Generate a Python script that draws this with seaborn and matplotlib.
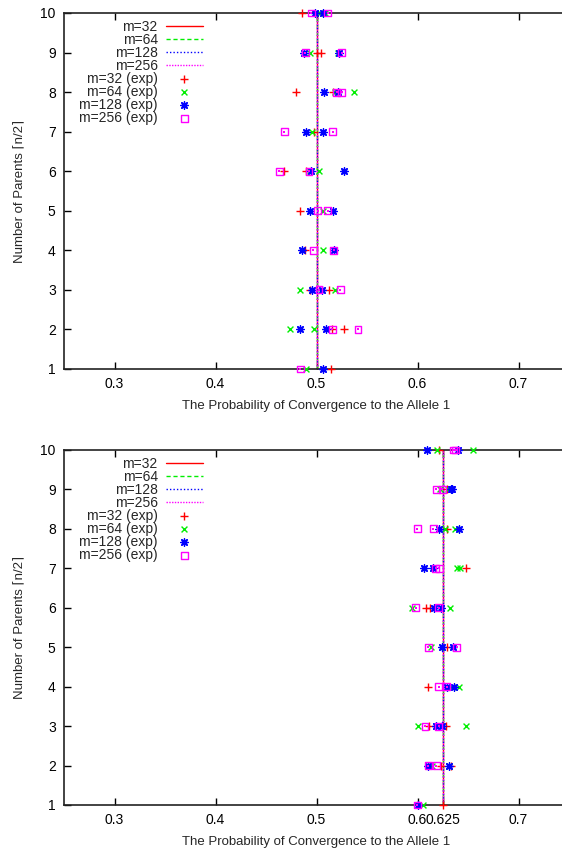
import numpy as np
import pandas as pd
import matplotlib
matplotlib.use("Agg")
import matplotlib.pyplot as plt
import seaborn as sns

sns.set_style("ticks")
plt.rcParams['font.family'] = ['Liberation Sans', 'DejaVu Sans']

# === Data (values per row, row 1 .. 10) ===
m_values = [32, 64, 128, 256]
rows = list(range(1, 11))

theory_top = [0.5, 0.5, 0.5, 0.5]
theory_bottom = [0.625, 0.625, 0.625, 0.625]

top_m32 = [[0.5148], [0.515, 0.5274], [0.4935, 0.5125], [0.4886], [0.4836],
           [0.468, 0.490], [0.498], [0.480, 0.516], [0.500, 0.504], [0.486]]
top_m64 = [[0.490], [0.4736, 0.4975], [0.484, 0.518], [0.506], [0.506],
           [0.494, 0.5025], [0.496], [0.518, 0.537], [0.494, 0.521], [0.503, 0.508]]
top_m128 = [[0.5065], [0.4836, 0.5098], [0.496, 0.505], [0.486, 0.517], [0.494, 0.516],
            [0.495, 0.527], [0.490, 0.506], [0.507, 0.521], [0.4876, 0.522], [0.499, 0.506]]
top_m256 = [[0.484], [0.5158, 0.541], [0.5025, 0.5234], [0.497, 0.517], [0.501, 0.511],
            [0.463, 0.4925], [0.468, 0.516], [0.520, 0.525], [0.489, 0.525], [0.495, 0.511]]

bot_m32 = [[0.625], [0.623, 0.633], [0.611, 0.6287], [0.6108], [0.6297],
           [0.6081, 0.6121], [0.648], [0.629], [0.629], [0.621]]
bot_m64 = [[0.605], [0.614, 0.6307], [0.6005, 0.648], [0.634, 0.6406], [0.6138],
           [0.5942, 0.632], [0.639, 0.6423], [0.627, 0.6373], [0.622, 0.6303], [0.6198, 0.6553]]
bot_m128 = [[0.6005], [0.6108, 0.6307], [0.6181, 0.6241], [0.6297, 0.6363], [0.6247, 0.6347],
            [0.6164, 0.6237], [0.6065, 0.6158], [0.6214, 0.6406], [0.633, 0.634], [0.6098, 0.6403]]
bot_m256 = [[0.5999], [0.6108, 0.6188], [0.6075, 0.6208], [0.6208, 0.629], [0.6108, 0.639],
            [0.5982, 0.6208], [0.6181, 0.6214], [0.5999, 0.6158], [0.6188, 0.6247], [0.6357, 0.638]]

xticks_top = [0.3, 0.4, 0.5, 0.6, 0.7]
xticks_bottom = [0.3, 0.4, 0.5, 0.6, 0.625, 0.7]

colors = ['#ff0000', '#00ee00', '#0000ff', '#ff00ff']
line_styles = ['-', (0, (3, 2)), (0, (1, 1.5)), (0, (1, 1))]
asterisk = (8, 2, 0)


def to_frame(per_row):
    xs, ys = [], []
    for r, vals in zip(rows, per_row):
        for v in vals:
            xs.append(v)
            ys.append(r)
    return pd.DataFrame({"x": xs, "y": ys})


def draw_panel(ax, theory, series, xticks):
    # theory lines (all four overlap)
    for m, t, c, ls in zip(m_values, theory, colors, line_styles):
        sns.lineplot(x=[t, t], y=[rows[0], rows[-1]], ax=ax, color=c, linestyle=ls,
                     linewidth=1, sort=False, estimator=None, label=f"m={m}")
    # experimental points
    d = to_frame(series[0])
    sns.scatterplot(data=d, x="x", y="y", ax=ax, marker='+', color=colors[0], s=30,
                    linewidth=1, clip_on=False, zorder=5, label="m=32 (exp)")
    d = to_frame(series[1])
    sns.scatterplot(data=d, x="x", y="y", ax=ax, marker='x', color=colors[1], s=18,
                    linewidth=1, clip_on=False, zorder=5, label="m=64 (exp)")
    d = to_frame(series[2])
    sns.scatterplot(data=d, x="x", y="y", ax=ax, marker=asterisk, color=colors[2], s=28,
                    linewidth=1, clip_on=False, zorder=5, label="m=128 (exp)")
    d = to_frame(series[3])
    sns.scatterplot(data=d, x="x", y="y", ax=ax, marker='s', fc='none', ec=colors[3], s=24,
                    linewidth=1, clip_on=False, zorder=6, label="m=256 (exp)")
    sns.scatterplot(data=d, x="x", y="y", ax=ax, marker='s', color=colors[3], s=2,
                    linewidth=0, clip_on=False, zorder=6, legend=False)

    ax.set_xlim(0.25, 0.75)
    ax.set_ylim(1, 10)
    ax.set_xticks(xticks)
    ax.set_xticklabels([f"{t:g}" for t in xticks])
    ax.set_yticks(rows)
    ax.tick_params(direction='in', length=5, width=1, top=True, right=True,
                   labelsize=10, pad=6, colors='black')
    for s in ax.spines.values():
        s.set_linewidth(1.2)
        s.set_color('#222222')
    ax.set_xlabel("The Probability of Convergence to the Allele 1", fontsize=9.5, labelpad=6)
    ax.set_ylabel("Number of Parents \u2308n/2\u2309", fontsize=9.5, labelpad=10)
    leg = ax.legend(loc='upper right', bbox_to_anchor=(0.275, 0.981), frameon=False,
                    markerfirst=False, fontsize=10, handlelength=2.65, handletextpad=0.6,
                    labelspacing=-0.07, borderaxespad=0, borderpad=0)
    return leg


fig = plt.figure(figsize=(5.62, 8.5), dpi=100)
w = (569 - 64) / 562
ax1 = fig.add_axes([64 / 562, 1 - 369 / 850, w, (369 - 13) / 850])
ax2 = fig.add_axes([64 / 562, 1 - 805 / 850, w, (805 - 450) / 850])

draw_panel(ax1, theory_top, [top_m32, top_m64, top_m128, top_m256], xticks_top)
draw_panel(ax2, theory_bottom, [bot_m32, bot_m64, bot_m128, bot_m256], xticks_bottom)

fig.savefig("out.png", dpi=100)
